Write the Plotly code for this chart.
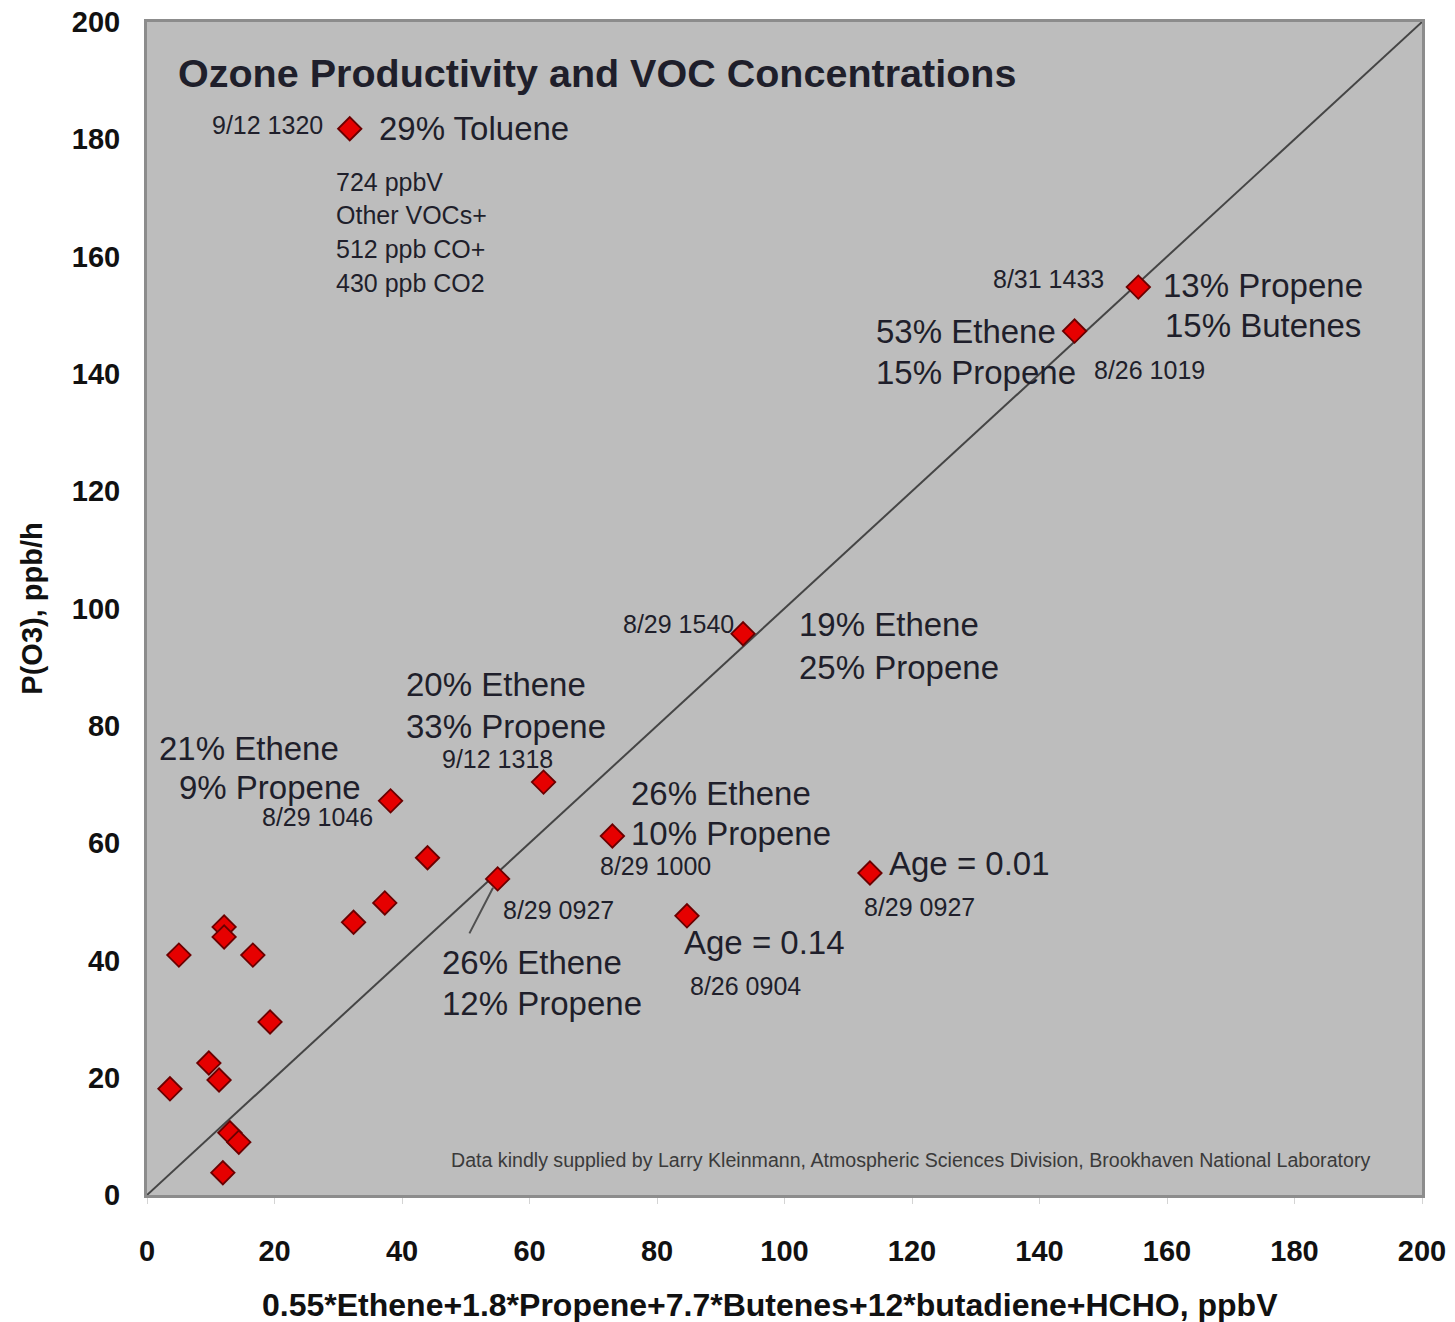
import plotly.graph_objects as go

# ---- data ----
voc_index = [31.8, 155.5, 145.5, 93.5, 62.2, 38.2, 73.0, 44.0, 55.0, 113.4, 84.7, 37.3, 32.4,
             12.1, 12.1, 5.0, 16.6, 19.3, 9.7, 11.3, 3.6, 13.0, 14.4, 11.9]
p_o3 = [181.8, 154.8, 147.3, 95.7, 70.4, 67.2, 61.2, 57.5, 53.9, 54.9, 47.6, 49.8, 46.5,
        45.7, 44.0, 40.9, 40.9, 29.5, 22.5, 19.6, 18.1, 10.6, 9.0, 3.8]
one_to_one = [0, 200]
tick_vals = [0, 20, 40, 60, 80, 100, 120, 140, 160, 180, 200]

title_text = "Ozone Productivity and VOC Concentrations"
x_title = "0.55*Ethene+1.8*Propene+7.7*Butenes+12*butadiene+HCHO, ppbV"
y_title = "P(O3), ppb/h"
credit = ("Data kindly supplied by Larry Kleinmann, Atmospheric Sciences Division, "
          "Brookhaven National Laboratory")

big_labels = [
    ("29% Toluene", 36.0, 181.8, "left"),
    ("13% Propene", 159.0, 155.0, "left"),
    ("15% Butenes", 159.3, 148.3, "left"),
    ("53% Ethene", 114.0, 147.3, "left"),
    ("15% Propene", 114.0, 140.3, "left"),
    ("19% Ethene", 102.0, 97.2, "left"),
    ("25% Propene", 102.0, 89.9, "left"),
    ("20% Ethene", 40.3, 87.0, "left"),
    ("33% Propene", 40.3, 79.8, "left"),
    ("21% Ethene", 1.6, 76.2, "left"),
    ("9% Propene", 4.7, 69.4, "left"),
    ("26% Ethene", 75.6, 68.4, "left"),
    ("10% Propene", 75.6, 61.6, "left"),
    ("26% Ethene", 45.9, 39.6, "left"),
    ("12% Propene", 45.9, 32.7, "left"),
    ("Age = 0.14", 83.9, 43.0, "left"),
    ("Age = 0.01", 116.1, 56.6, "left"),
]
small_labels = [
    ("9/12 1320", 27.9, 182.4, "right"),
    ("724 ppbV", 29.4, 172.7, "left"),
    ("Other VOCs+", 29.4, 167.1, "left"),
    ("512 ppb CO+", 29.4, 161.3, "left"),
    ("430 ppb CO2", 29.4, 155.5, "left"),
    ("8/31 1433", 150.5, 156.2, "right"),
    ("8/26 1019", 148.3, 140.7, "left"),
    ("8/29 1540", 92.4, 97.4, "right"),
    ("9/12 1318", 45.9, 74.3, "left"),
    ("8/29 1046", 17.7, 64.5, "left"),
    ("8/29 1000", 70.8, 56.1, "left"),
    ("8/29 0927", 55.6, 48.6, "left"),
    ("8/26 0904", 84.9, 35.6, "left"),
    ("8/29 0927", 112.1, 49.1, "left"),
]

TXT = "#1f1f2b"
FONT = "Liberation Sans, Arial, sans-serif"

fig = go.Figure()
fig.add_trace(go.Scatter(x=one_to_one, y=one_to_one, mode="lines",
                         line=dict(color="#454545", width=2), hoverinfo="skip",
                         showlegend=False))
fig.add_trace(go.Scatter(x=voc_index, y=p_o3, mode="markers",
                         marker=dict(symbol="diamond", size=18, color="#e60000",
                                     line=dict(color="#6a0000", width=1.8)),
                         showlegend=False))

ann = []
ann.append(dict(text=title_text, x=4.6, y=191.3, xref="x", yref="y",
                xanchor="left", yanchor="middle", showarrow=False,
                font=dict(family=FONT, size=39.5, color=TXT, weight="bold")))
for t, x, y, a in big_labels:
    ann.append(dict(text=t, x=x, y=y, xref="x", yref="y", xanchor=a, yanchor="middle",
                    showarrow=False, font=dict(family=FONT, size=33, color=TXT)))
for t, x, y, a in small_labels:
    ann.append(dict(text=t, x=x, y=y, xref="x", yref="y", xanchor=a, yanchor="middle",
                    showarrow=False, font=dict(family=FONT, size=25, color=TXT)))
ann.append(dict(text=credit, x=47.3, y=6.0, xref="x", yref="y", xanchor="left",
                yanchor="middle", showarrow=False,
                font=dict(family=FONT, size=19.6, color="#3a3a3a")))
ann.append(dict(text="", x=voc_index[8], y=p_o3[8], xref="x", yref="y", showarrow=True,
                arrowhead=0, arrowwidth=2, arrowcolor="#505050", ax=-29, ay=56,
                standoff=10))
ann.append(dict(text=x_title, x=0.4886, y=-0.094, xref="paper", yref="paper",
                xanchor="center", yanchor="middle", showarrow=False,
                font=dict(family=FONT, size=32, color="#111111", weight="bold")))

fig.update_layout(
    width=1455, height=1322,
    margin=dict(l=147, r=33, t=22, b=127),
    paper_bgcolor="white", plot_bgcolor="#bdbdbd",
    annotations=ann,
    font=dict(family=FONT, color="#222222"),
    showlegend=False,
)
fig.update_xaxes(range=[0, 200], tickvals=tick_vals, showgrid=False, zeroline=False,
                 showline=True, linecolor="#8c8c8c", linewidth=3, mirror=True,
                 ticks="outside", ticklen=6, tickcolor="#d4d4d4",
                 ticklabelstandoff=22, ticklabeloverflow="allow",
                 tickfont=dict(family=FONT, size=29, color="#111111", weight="bold"),
                 automargin=False)
fig.update_yaxes(range=[0, 200], tickvals=tick_vals, showgrid=False, zeroline=False,
                 showline=True, linecolor="#8c8c8c", linewidth=3, mirror=True,
                 ticks="", ticklabelstandoff=18, ticklabeloverflow="allow",
                 tickfont=dict(family=FONT, size=29, color="#111111", weight="bold"),
                 title=dict(text=y_title, standoff=21,
                            font=dict(family=FONT, size=29, color="#111111",
                                      weight="bold")),
                 automargin=False)

fig.write_html("out.html",
               config={"displayModeBar": False},
               post_script="document.body.style.margin='0px';"
                           "document.body.style.overflow='hidden';")
